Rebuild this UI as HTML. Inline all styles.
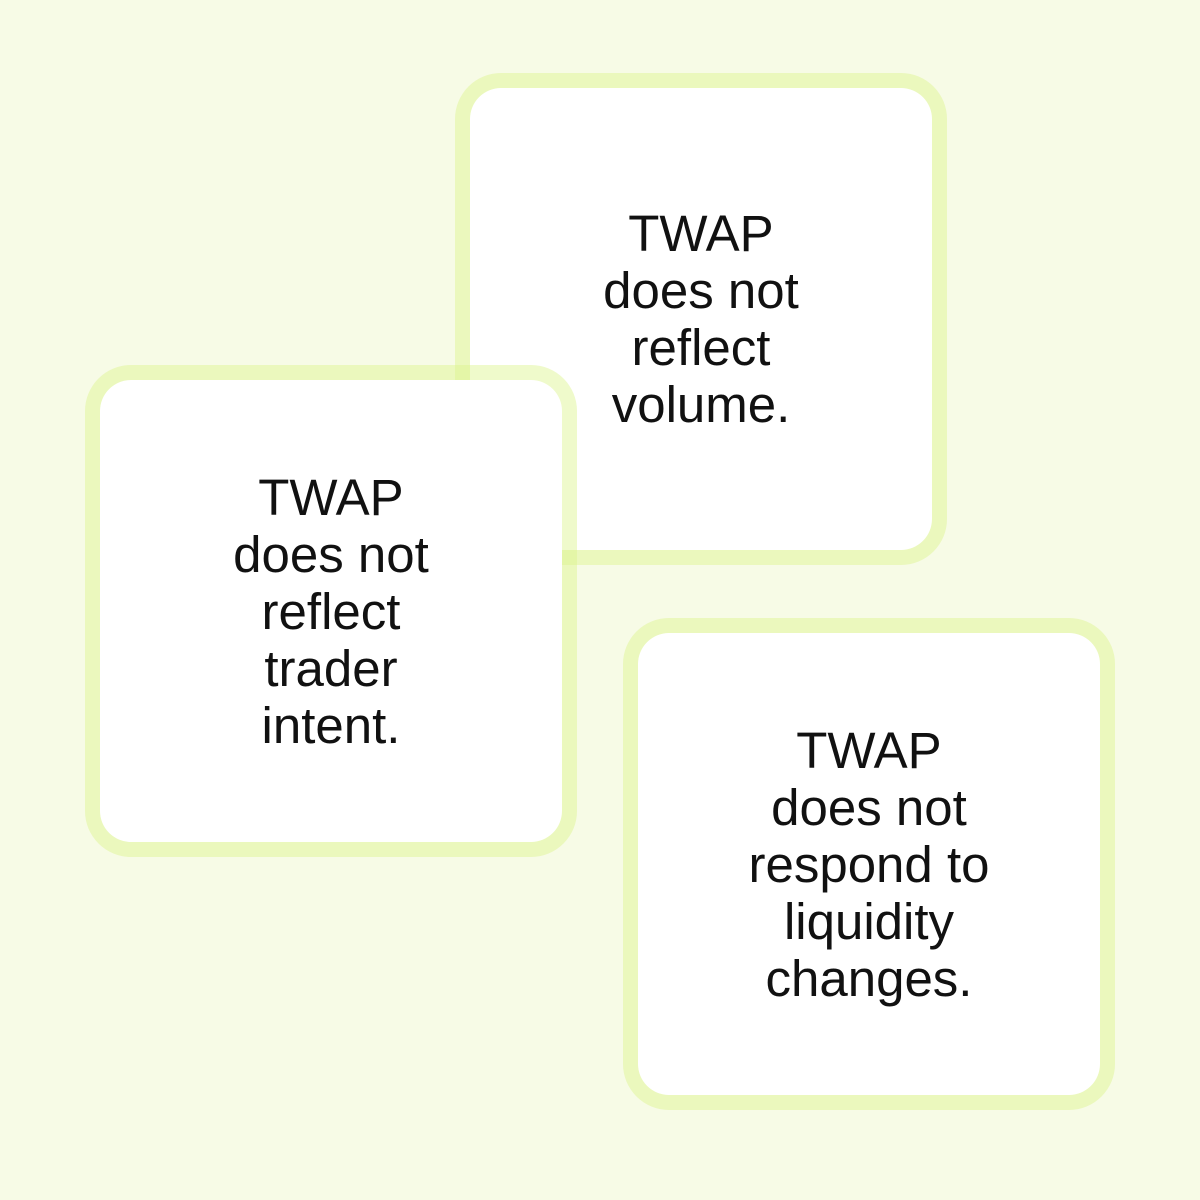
<!DOCTYPE html>
<html><head><style>
body{margin:0;width:1200px;height:1200px;background:#f7fbe6;position:relative;overflow:hidden;font-family:"Liberation Sans",sans-serif}
.b{position:absolute;width:462px;height:462px;border:15px solid rgba(220,245,140,0.45);background:#fff;background-clip:padding-box;border-radius:46px;box-sizing:content-box;display:flex;align-items:center;justify-content:center;text-align:center;font-size:51px;line-height:57px;color:#111}
</style></head><body>
<div class="b" style="left:455px;top:73px"><div style="margin-top:0px">TWAP<br>does not<br>reflect<br>volume.</div></div>
<div class="b" style="left:85px;top:365px"><div style="margin-top:0px">TWAP<br>does not<br>reflect<br>trader<br>intent.</div></div>
<div class="b" style="left:623px;top:618px"><div style="margin-top:0px">TWAP<br>does not<br>respond to<br>liquidity<br>changes.</div></div>
</body></html>
